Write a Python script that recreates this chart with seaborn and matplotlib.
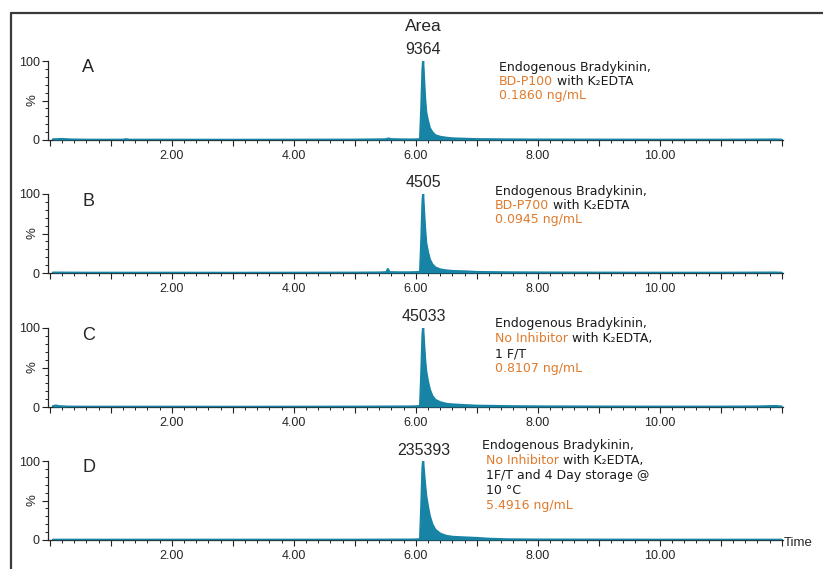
import numpy as np
import pandas as pd
import seaborn as sns
import matplotlib.pyplot as plt
from matplotlib.lines import Line2D
from matplotlib.ticker import MultipleLocator, FuncFormatter

# ______________________________________________________________________________
# Data (time in min, intensity in %)

time_A = [0.05, 0.2, 0.35, 0.6, 1.0, 1.2, 1.25, 1.3, 2.0, 3.0, 4.0, 5.0, 5.5, 5.55,
          5.6, 5.7, 5.9, 6.0, 6.07, 6.09, 6.11, 6.12, 6.13, 6.15, 6.17, 6.2, 6.23,
          6.27, 6.32, 6.4, 6.5, 6.6, 6.8, 7.0, 7.5, 8.0, 9.0, 10.0, 11.0, 11.5,
          11.9, 12.0]
int_A = [0.8, 1.2, 0.6, 0.3, 0.3, 0.3, 1.0, 0.3, 0.3, 0.2, 0.3, 0.4, 0.8, 1.8,
         1.0, 0.8, 0.6, 0.7, 1.0, 40, 90, 100, 85, 55, 35, 24, 15, 10, 6, 4.0, 2.8,
         2.0, 1.5, 1.0, 0.7, 0.5, 0.4, 0.3, 0.3, 0.4, 0.6, 0.3]

time_B = [0.05, 0.3, 0.6, 1.0, 2.0, 3.0, 4.0, 5.0, 5.4, 5.52, 5.54, 5.57, 5.7,
          5.9, 6.0, 6.07, 6.09, 6.11, 6.12, 6.13, 6.15, 6.17, 6.2, 6.23, 6.27,
          6.32, 6.4, 6.5, 6.6, 6.8, 7.0, 7.5, 8.0, 9.0, 10.0, 11.0, 11.9, 12.0]
int_B = [0.5, 0.4, 0.3, 0.3, 0.3, 0.2, 0.3, 0.4, 0.6, 1.0, 5.0, 1.0, 0.8, 0.8,
         1.0, 1.2, 40, 90, 100, 85, 58, 38, 26, 17, 11, 7, 4.5, 3.2, 2.5, 2.0,
         1.2, 0.8, 0.6, 0.4, 0.3, 0.3, 0.5, 0.3]

time_C = [0.05, 0.1, 0.15, 0.3, 0.6, 1.0, 2.0, 3.0, 4.0, 5.0, 5.5, 5.9, 6.0, 6.07,
          6.09, 6.11, 6.12, 6.13, 6.15, 6.17, 6.2, 6.23, 6.27, 6.32, 6.4, 6.5,
          6.6, 6.8, 7.0, 7.5, 8.0, 9.0, 10.0, 11.0, 11.6, 11.9, 12.0]
int_C = [1.0, 1.8, 1.0, 0.4, 0.3, 0.3, 0.3, 0.2, 0.3, 0.4, 0.5, 0.6, 0.8, 1.2,
         42, 92, 100, 88, 62, 45, 32, 22, 14, 9, 6, 4.0, 3.2, 2.3, 1.6, 1.0,
         0.7, 0.5, 0.4, 0.4, 0.6, 1.2, 0.5]

time_D = [0.05, 0.3, 0.6, 1.0, 2.0, 3.0, 4.0, 5.0, 5.5, 5.9, 6.0, 6.07, 6.09,
          6.11, 6.12, 6.13, 6.15, 6.17, 6.2, 6.23, 6.27, 6.32, 6.4, 6.5, 6.6,
          6.8, 7.0, 7.2, 7.5, 8.0, 9.0, 10.0, 11.0, 11.9, 12.0]
int_D = [0.3, 0.3, 0.3, 0.3, 0.3, 0.3, 0.3, 0.3, 0.4, 0.5, 0.6, 1.0, 42, 92,
         100, 90, 72, 56, 42, 30, 20, 13, 8, 5.2, 4.0, 3.2, 2.5, 1.5, 0.8, 0.5,
         0.4, 0.3, 0.3, 0.3, 0.3]

letters = ['A', 'B', 'C', 'D']
areas = ['9364', '4505', '45033', '235393']

BLACK = '#1a1a1a'
ORANGE = '#e07a2c'
notes = [
    [[("Endogenous Bradykinin,", BLACK)],
     [("BD-P100", ORANGE), (" with K\u2082EDTA", BLACK)],
     [("0.1860 ng/mL", ORANGE)]],
    [[("Endogenous Bradykinin,", BLACK)],
     [("BD-P700", ORANGE), (" with K\u2082EDTA", BLACK)],
     [("0.0945 ng/mL", ORANGE)]],
    [[("Endogenous Bradykinin,", BLACK)],
     [("No Inhibitor", ORANGE), (" with K\u2082EDTA,", BLACK)],
     [("1 F/T", BLACK)],
     [("0.8107 ng/mL", ORANGE)]],
    [[("Endogenous Bradykinin,", BLACK)],
     [(" No Inhibitor", ORANGE), (" with K\u2082EDTA,", BLACK)],
     [(" 1F/T and 4 Day storage @", BLACK)],
     [(" 10 \u00b0C", BLACK)],
     [(" 5.4916 ng/mL", ORANGE)]],
]

traces = [(time_A, int_A), (time_B, int_B), (time_C, int_C), (time_D, int_D)]

# ______________________________________________________________________________
# Figure layout (pixel positions of the reference)

W, H = 823, 569
TEAL = '#1784a6'
sns.set_style('ticks')
plt.rcParams['font.family'] = ['Liberation Sans', 'DejaVu Sans']

fig = plt.figure(figsize=(W / 100, H / 100), dpi=100)


def fx(x):
    return x / W


def fy(y):
    return 1 - y / H


zero_rows = [140, 273, 407, 540]
area_pos = [(423, 49.5), (423, 182.7), (424, 316.7), (424, 450.7)]
note_x = [499, 495, 495, 482]
note_top = [68, 191.5, 323, 445.5]
note_step = [13.9, 14.2, 15.3, 14.9]

ax_left, ax_right = 48, 783
renderer = fig.canvas.get_renderer()

for i, (t, v) in enumerate(traces):
    y0 = zero_rows[i]
    ax = fig.add_axes([fx(ax_left), fy(y0), fx(ax_right - ax_left), 79 / H])
    df = pd.DataFrame({'time': t, 'intensity': v})
    sns.lineplot(data=df, x='time', y='intensity', ax=ax, color=TEAL,
                 lw=1.6, estimator=None, zorder=3)
    ax.fill_between(df['time'], df['intensity'], color=TEAL, lw=0, zorder=3)
    ax.set_xlim(-0.03, 12.02)
    ax.set_ylim(0, 100)
    ax.set_xlabel('')
    ax.set_ylabel('')
    for s in ['top', 'right']:
        ax.spines[s].set_visible(False)
    ax.spines['left'].set_linewidth(0.9)
    ax.spines['bottom'].set_linewidth(0.9)
    ax.patch.set_alpha(0)

    ax.xaxis.set_major_locator(MultipleLocator(1))
    ax.xaxis.set_minor_locator(MultipleLocator(0.2))
    ax.xaxis.set_major_formatter(FuncFormatter(
        lambda x, p: '%.2f' % x if (round(x) % 2 == 0 and 1 < x < 11) else ''))
    ax.set_yticks([0, 50, 100])
    ax.set_yticklabels(['0', '', '100'])
    ax.yaxis.set_minor_locator(MultipleLocator(10))
    ax.tick_params(axis='both', which='major', length=4, width=0.8,
                   labelsize=9, color='#222222', pad=2)
    ax.tick_params(axis='x', which='major', pad=3)
    ax.tick_params(axis='both', which='minor', length=2, width=0.7,
                   color='#222222')

    # panel texts
    fig.text(fx(33), fy(y0 - 40), '%', rotation=90, fontsize=9.5,
             ha='center', va='center')
    fig.text(fx(82), fy(y0 - 72), letters[i], fontsize=13,
             ha='left', va='center')
    fig.text(fx(area_pos[i][0]), fy(area_pos[i][1]), areas[i], fontsize=11.5,
             ha='center', va='center')

    for j, line in enumerate(notes[i]):
        xpix = note_x[i]
        ypix = note_top[i] + j * note_step[i]
        for txt, col in line:
            tt = fig.text(fx(xpix), fy(ypix), txt, color=col, fontsize=9,
                          family='DejaVu Sans', ha='left', va='center')
            bb = tt.get_window_extent(renderer=renderer)
            xpix = bb.x1

fig.text(fx(423), fy(26.5), 'Area', fontsize=12.5, ha='center', va='center')
fig.text(fx(784), fy(542.5), 'Time', fontsize=9.5, ha='left', va='center')

# frame of the original figure: top and left edge only
fig.add_artist(Line2D([fx(11), 1], [fy(12.5), fy(12.5)], color='#3a3a3a', lw=1.6))
fig.add_artist(Line2D([fx(11), fx(11)], [fy(12.5), 0], color='#3a3a3a', lw=1.6))

fig.savefig('out.png', dpi=100)
